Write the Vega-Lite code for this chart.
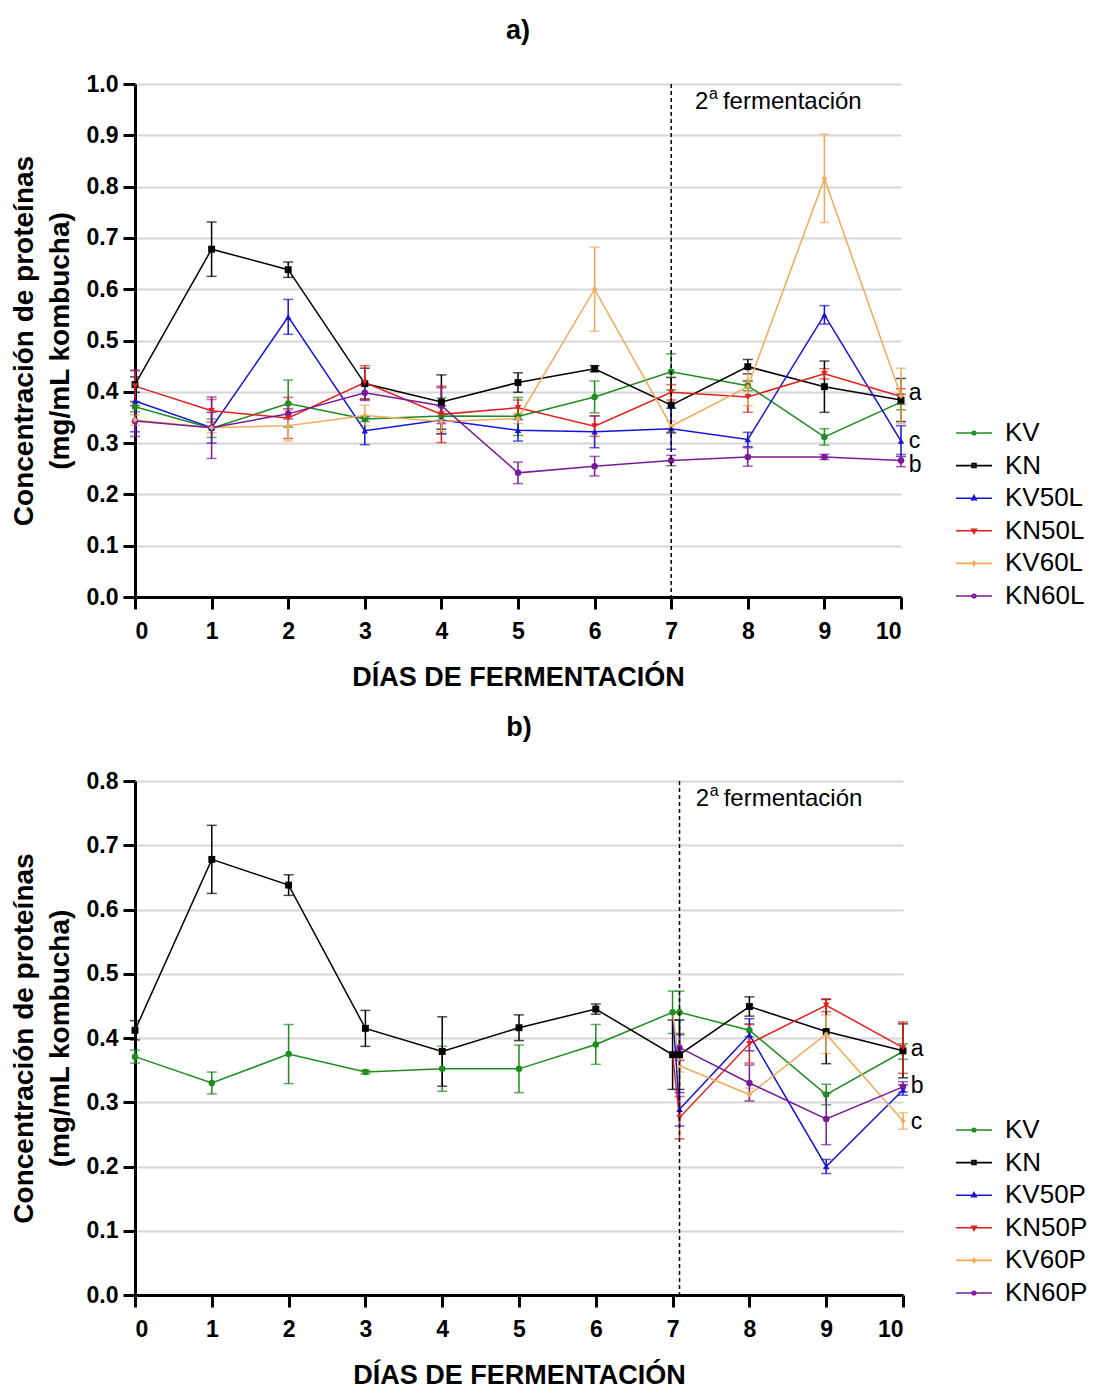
{
  "$schema": "https://vega.github.io/schema/vega-lite/v6.json",
  "padding": {"left": 10, "top": 17, "right": 0, "bottom": 0},
  "background": "white",
  "config": {
    "view": {"stroke": null},
    "font": "Liberation Sans",
    "axis": {
      "domainColor": "black", "domainWidth": 3, "tickColor": "black", "tickWidth": 3, "tickSize": 12,
      "labelFont": "Liberation Sans", "labelFontWeight": "bold", "labelFontSize": 23, "labelColor": "black",
      "titleFont": "Liberation Sans", "titleFontWeight": "bold", "titleFontSize": 27, "titleColor": "black",
      "gridColor": "#d6d6d6", "gridWidth": 2
    },
    "axisX": {"grid": false, "labelPadding": 11, "titlePadding": 21},
    "axisY": {"grid": true, "labelPadding": 5, "titlePadding": 12, "titleLineHeight": 36, "titleFontSize": 28},
    "title": {"font": "Liberation Sans", "fontSize": 27, "fontWeight": "bold", "color": "black", "anchor": "middle", "frame": "group", "offset": 28},
    "legend": {"labelFont": "Liberation Sans", "labelFontSize": 26, "labelColor": "black", "padding": 0, "rowPadding": 3.6, "labelOffset": 15}
  },
  "datasets": {
    "A": [
      {"s": "KV", "d": 0, "v": 0.371, "e": 0.01}, {"s": "KV", "d": 1, "v": 0.329, "e": 0.018}, {"s": "KV", "d": 2, "v": 0.377, "e": 0.046},
      {"s": "KV", "d": 3, "v": 0.347, "e": 0.005}, {"s": "KV", "d": 4, "v": 0.353, "e": 0.035}, {"s": "KV", "d": 5, "v": 0.352, "e": 0.037},
      {"s": "KV", "d": 6, "v": 0.39, "e": 0.031}, {"s": "KV", "d": 7, "v": 0.439, "e": 0.035}, {"s": "KV", "d": 8, "v": 0.412, "e": 0.01},
      {"s": "KV", "d": 9, "v": 0.312, "e": 0.016}, {"s": "KV", "d": 10, "v": 0.38, "e": 0.015},
      {"s": "KN", "d": 0, "v": 0.414, "e": 0.015}, {"s": "KN", "d": 1, "v": 0.678, "e": 0.053}, {"s": "KN", "d": 2, "v": 0.638, "e": 0.015},
      {"s": "KN", "d": 3, "v": 0.416, "e": 0.03}, {"s": "KN", "d": 4, "v": 0.38, "e": 0.053}, {"s": "KN", "d": 5, "v": 0.418, "e": 0.019},
      {"s": "KN", "d": 6, "v": 0.445, "e": 0.006}, {"s": "KN", "d": 7, "v": 0.374, "e": 0.054}, {"s": "KN", "d": 8, "v": 0.449, "e": 0.014},
      {"s": "KN", "d": 9, "v": 0.41, "e": 0.05}, {"s": "KN", "d": 10, "v": 0.384, "e": 0.042},
      {"s": "KV50L", "d": 0, "v": 0.382, "e": 0.06}, {"s": "KV50L", "d": 1, "v": 0.33, "e": 0.03}, {"s": "KV50L", "d": 2, "v": 0.546, "e": 0.034},
      {"s": "KV50L", "d": 3, "v": 0.324, "e": 0.027}, {"s": "KV50L", "d": 4, "v": 0.345, "e": 0.027}, {"s": "KV50L", "d": 5, "v": 0.325, "e": 0.021},
      {"s": "KV50L", "d": 6, "v": 0.322, "e": 0.031}, {"s": "KV50L", "d": 7, "v": 0.328, "e": 0.04}, {"s": "KV50L", "d": 8, "v": 0.307, "e": 0.014},
      {"s": "KV50L", "d": 9, "v": 0.55, "e": 0.018}, {"s": "KV50L", "d": 10, "v": 0.304, "e": 0.03},
      {"s": "KN50L", "d": 0, "v": 0.411, "e": 0.03}, {"s": "KN50L", "d": 1, "v": 0.363, "e": 0.022}, {"s": "KN50L", "d": 2, "v": 0.349, "e": 0.04},
      {"s": "KN50L", "d": 3, "v": 0.418, "e": 0.033}, {"s": "KN50L", "d": 4, "v": 0.356, "e": 0.055}, {"s": "KN50L", "d": 5, "v": 0.369, "e": 0.015},
      {"s": "KN50L", "d": 6, "v": 0.333, "e": 0.02}, {"s": "KN50L", "d": 7, "v": 0.399, "e": 0.015}, {"s": "KN50L", "d": 8, "v": 0.39, "e": 0.03},
      {"s": "KN50L", "d": 9, "v": 0.435, "e": 0.01}, {"s": "KN50L", "d": 10, "v": 0.391, "e": 0.015},
      {"s": "KV60L", "d": 0, "v": 0.345, "e": 0.01}, {"s": "KV60L", "d": 1, "v": 0.33, "e": 0.01}, {"s": "KV60L", "d": 2, "v": 0.334, "e": 0.03},
      {"s": "KV60L", "d": 3, "v": 0.354, "e": 0.02}, {"s": "KV60L", "d": 4, "v": 0.342, "e": 0.02}, {"s": "KV60L", "d": 5, "v": 0.348, "e": 0.01},
      {"s": "KV60L", "d": 6, "v": 0.6, "e": 0.082}, {"s": "KV60L", "d": 7, "v": 0.333, "e": 0.01}, {"s": "KV60L", "d": 8, "v": 0.41, "e": 0.037},
      {"s": "KV60L", "d": 9, "v": 0.816, "e": 0.086}, {"s": "KV60L", "d": 10, "v": 0.392, "e": 0.054},
      {"s": "KN60L", "d": 0, "v": 0.343, "e": 0.03}, {"s": "KN60L", "d": 1, "v": 0.33, "e": 0.06}, {"s": "KN60L", "d": 2, "v": 0.357, "e": 0.01},
      {"s": "KN60L", "d": 3, "v": 0.398, "e": 0.015}, {"s": "KN60L", "d": 4, "v": 0.373, "e": 0.035}, {"s": "KN60L", "d": 5, "v": 0.242, "e": 0.021},
      {"s": "KN60L", "d": 6, "v": 0.255, "e": 0.019}, {"s": "KN60L", "d": 7, "v": 0.266, "e": 0.01}, {"s": "KN60L", "d": 8, "v": 0.273, "e": 0.018},
      {"s": "KN60L", "d": 9, "v": 0.273, "e": 0.005}, {"s": "KN60L", "d": 10, "v": 0.266, "e": 0.012}
    ],
    "B": [
      {"s": "KV", "d": 0, "v": 0.371, "e": 0.01}, {"s": "KV", "d": 1, "v": 0.33, "e": 0.017}, {"s": "KV", "d": 2, "v": 0.375, "e": 0.046},
      {"s": "KV", "d": 3, "v": 0.347, "e": 0.003}, {"s": "KV", "d": 4, "v": 0.352, "e": 0.035}, {"s": "KV", "d": 5, "v": 0.352, "e": 0.037},
      {"s": "KV", "d": 6, "v": 0.39, "e": 0.031}, {"s": "KV", "d": 7, "v": 0.44, "e": 0.033}, {"s": "KV", "d": 7.09, "v": 0.44, "e": 0.033},
      {"s": "KV", "d": 8, "v": 0.412, "e": 0.01}, {"s": "KV", "d": 9, "v": 0.312, "e": 0.016}, {"s": "KV", "d": 10, "v": 0.379, "e": 0.012},
      {"s": "KN", "d": 0, "v": 0.412, "e": 0.015}, {"s": "KN", "d": 1, "v": 0.678, "e": 0.053}, {"s": "KN", "d": 2, "v": 0.638, "e": 0.016},
      {"s": "KN", "d": 3, "v": 0.415, "e": 0.028}, {"s": "KN", "d": 4, "v": 0.379, "e": 0.054}, {"s": "KN", "d": 5, "v": 0.416, "e": 0.02},
      {"s": "KN", "d": 6, "v": 0.445, "e": 0.008}, {"s": "KN", "d": 7, "v": 0.374, "e": 0.054}, {"s": "KN", "d": 7.09, "v": 0.374, "e": 0.054},
      {"s": "KN", "d": 8, "v": 0.449, "e": 0.015}, {"s": "KN", "d": 9, "v": 0.41, "e": 0.05}, {"s": "KN", "d": 10, "v": 0.38, "e": 0.042},
      {"s": "KV50P", "d": 7, "v": 0.44, "e": 0}, {"s": "KV50P", "d": 7.09, "v": 0.289, "e": 0.026}, {"s": "KV50P", "d": 8, "v": 0.405, "e": 0.025},
      {"s": "KV50P", "d": 9, "v": 0.2, "e": 0.011}, {"s": "KV50P", "d": 10, "v": 0.319, "e": 0.008},
      {"s": "KN50P", "d": 7, "v": 0.374, "e": 0}, {"s": "KN50P", "d": 7.09, "v": 0.276, "e": 0.033}, {"s": "KN50P", "d": 8, "v": 0.391, "e": 0.03},
      {"s": "KN50P", "d": 9, "v": 0.451, "e": 0.01}, {"s": "KN50P", "d": 10, "v": 0.385, "e": 0.04},
      {"s": "KV60P", "d": 7, "v": 0.44, "e": 0}, {"s": "KV60P", "d": 7.09, "v": 0.357, "e": 0.01}, {"s": "KV60P", "d": 8, "v": 0.312, "e": 0.01},
      {"s": "KV60P", "d": 9, "v": 0.406, "e": 0.03}, {"s": "KV60P", "d": 10, "v": 0.271, "e": 0.013},
      {"s": "KN60P", "d": 7, "v": 0.374, "e": 0}, {"s": "KN60P", "d": 7.09, "v": 0.385, "e": 0.02}, {"s": "KN60P", "d": 8, "v": 0.33, "e": 0.028},
      {"s": "KN60P", "d": 9, "v": 0.274, "e": 0.04}, {"s": "KN60P", "d": 10, "v": 0.324, "e": 0.008}
    ]
  },
  "spacing": 24,
  "resolve": {"scale": {"color": "independent", "shape": "independent", "x": "independent", "y": "independent"}},
  "vconcat": [
    {
      "title": "a)",
      "width": 766,
      "height": 513,
      "resolve": {"legend": {"color": "independent", "shape": "independent"}},
      "encoding": {
        "x": {"field": "d", "type": "quantitative", "scale": {"domain": [0, 10], "nice": false},
              "axis": {"title": "DÍAS DE FERMENTACIÓN", "values": [0, 1, 2, 3, 4, 5, 6, 7, 8, 9, 10], "format": "d"}}
      },
      "layer": [
        {
          "data": {"name": "A"},
          "encoding": {
            "y": {"field": "v", "type": "quantitative", "scale": {"domain": [0, 1], "nice": false}, "axis": {"title": ["Concentración de proteínas", "(mg/mL kombucha)"], "values": [0, 0.1, 0.2, 0.3, 0.4, 0.5, 0.6, 0.7, 0.8, 0.9, 1.0], "format": ".1f"}},
            "color": {"field": "s", "type": "nominal", "legend": null, "scale": {"domain": ["KV", "KN", "KV50L", "KN50L", "KV60L", "KN60L"], "range": ["#1e8c1e", "#000000", "#1414d2", "#e0201c", "#f0aa5a", "#7a1a9a"]}}
          },
          "layer": [
            {"mark": {"type": "errorbar", "ticks": {"size": 10, "thickness": 1.5}, "thickness": 1.5}, "encoding": {"yError": {"field": "e"}}},
            {"mark": {"type": "line", "strokeWidth": 1.5}},
            {"transform": [{"filter": "datum.s == 'KV' || datum.s == 'KN60L'"}], "mark": {"type": "point", "shape": "circle", "filled": true, "opacity": 1, "size": 42}},
            {"transform": [{"filter": "datum.s == 'KN'"}], "mark": {"type": "point", "shape": "square", "filled": true, "opacity": 1, "size": 48}},
            {"transform": [{"filter": "datum.s == 'KV50L'"}], "mark": {"type": "point", "shape": "triangle-up", "filled": true, "opacity": 1, "size": 42}},
            {"transform": [{"filter": "datum.s == 'KN50L'"}], "mark": {"type": "point", "shape": "triangle-down", "filled": true, "opacity": 1, "size": 42}},
            {"transform": [{"filter": "datum.s == 'KV60L'"}], "mark": {"type": "point", "shape": "diamond", "filled": true, "opacity": 1, "size": 32}}
          ]
        },
        {
          "data": {"name": "A"},
          "mark": {"type": "point", "filled": false, "opacity": 0, "size": 900, "strokeWidth": 1.6},
          "encoding": {
            "y": {"field": "v", "type": "quantitative", "scale": {"domain": [0, 1], "nice": false}, "axis": {"title": ["Concentración de proteínas", "(mg/mL kombucha)"], "values": [0, 0.1, 0.2, 0.3, 0.4, 0.5, 0.6, 0.7, 0.8, 0.9, 1.0], "format": ".1f"}},
            "color": {"field": "s", "type": "nominal", "scale": {"domain": ["KV", "KN", "KV50L", "KN50L", "KV60L", "KN60L"], "range": ["#1e8c1e", "#000000", "#1414d2", "#e0201c", "#f0aa5a", "#7a1a9a"]},
                      "legend": {"orient": "none", "legendX": 823, "legendY": 333, "title": null, "symbolSize": 900, "symbolOpacity": 1, "symbolStrokeWidth": 1.6}},
            "shape": {"field": "s", "type": "nominal",
                      "scale": {"domain": ["KV", "KN", "KV50L", "KN50L", "KV60L", "KN60L"],
                                "range": ["M-1.2,0H1.2M0.12,0A0.12,0.12,0,1,1,-0.12,0A0.12,0.12,0,1,1,0.12,0Z", "M-1.2,0H1.2M-0.13,-0.13H0.13V0.13H-0.13Z", "M-1.2,0H1.2M0,-0.17L0.15,0.1H-0.15Z", "M-1.2,0H1.2M0,0.17L0.15,-0.1H-0.15Z", "M-1.2,0H1.2M0,-0.14L0.1,0L0,0.14L-0.1,0Z", "M-1.2,0H1.2M0.12,0A0.12,0.12,0,1,1,-0.12,0A0.12,0.12,0,1,1,0.12,0Z"]},
                      "legend": {"orient": "none", "legendX": 823, "legendY": 333, "title": null, "symbolSize": 900, "symbolOpacity": 1, "symbolStrokeWidth": 1.6}}
          }
        },
        {
          "data": {"values": [{"d": 7}]},
          "mark": {"type": "rule", "strokeDash": [4, 3], "strokeWidth": 1.5, "color": "black"},
          "encoding": {}
        },
        {
          "data": {"values": [{"d": 7.31, "v": 0.965}]},
          "encoding": {"y": {"field": "v", "type": "quantitative", "scale": {"domain": [0, 1], "nice": false}, "axis": {"title": ["Concentración de proteínas", "(mg/mL kombucha)"], "values": [0, 0.1, 0.2, 0.3, 0.4, 0.5, 0.6, 0.7, 0.8, 0.9, 1.0], "format": ".1f"}}},
          "layer": [
            {"mark": {"type": "text", "text": "2", "align": "left", "baseline": "middle", "fontSize": 24, "color": "black"}},
            {"mark": {"type": "text", "text": "a", "align": "left", "baseline": "middle", "fontSize": 16, "dx": 14, "dy": -8, "color": "black"}},
            {"mark": {"type": "text", "text": "fermentación", "align": "left", "baseline": "middle", "fontSize": 24, "dx": 28, "color": "black"}}
          ]
        },
        {
          "data": {"values": [{"d": 10.1, "v": 0.397, "t": "a"}, {"d": 10.1, "v": 0.305, "t": "c"}, {"d": 10.1, "v": 0.258, "t": "b"}]},
          "mark": {"type": "text", "align": "left", "baseline": "middle", "fontSize": 23, "color": "black"},
          "encoding": {"y": {"field": "v", "type": "quantitative", "scale": {"domain": [0, 1], "nice": false}, "axis": {"title": ["Concentración de proteínas", "(mg/mL kombucha)"], "values": [0, 0.1, 0.2, 0.3, 0.4, 0.5, 0.6, 0.7, 0.8, 0.9, 1.0], "format": ".1f"}}, "text": {"field": "t"}}
        }
      ]
    },
    {
      "title": "b)",
      "width": 768,
      "height": 514,
      "resolve": {"legend": {"color": "independent", "shape": "independent"}},
      "encoding": {
        "x": {"field": "d", "type": "quantitative", "scale": {"domain": [0, 10], "nice": false},
              "axis": {"title": "DÍAS DE FERMENTACIÓN", "values": [0, 1, 2, 3, 4, 5, 6, 7, 8, 9, 10], "format": "d"}}
      },
      "layer": [
        {
          "data": {"name": "B"},
          "encoding": {
            "y": {"field": "v", "type": "quantitative", "scale": {"domain": [0, 0.8], "nice": false}, "axis": {"title": ["Concentración de proteínas", "(mg/mL kombucha)"], "values": [0, 0.1, 0.2, 0.3, 0.4, 0.5, 0.6, 0.7, 0.8], "format": ".1f"}},
            "color": {"field": "s", "type": "nominal", "legend": null, "scale": {"domain": ["KV", "KN", "KV50P", "KN50P", "KV60P", "KN60P"], "range": ["#1e8c1e", "#000000", "#1414d2", "#e0201c", "#f0aa5a", "#7a1a9a"]}}
          },
          "layer": [
            {"transform": [{"filter": "datum.s == 'KV' || datum.s == 'KN' || datum.d != 7"}], "mark": {"type": "errorbar", "ticks": {"size": 10, "thickness": 1.5}, "thickness": 1.5}, "encoding": {"yError": {"field": "e"}}},
            {"mark": {"type": "line", "strokeWidth": 1.5}},
            {"transform": [{"filter": "datum.s == 'KV' || (datum.s == 'KN60P' && datum.d != 7)"}], "mark": {"type": "point", "shape": "circle", "filled": true, "opacity": 1, "size": 42}},
            {"transform": [{"filter": "datum.s == 'KN'"}], "mark": {"type": "point", "shape": "square", "filled": true, "opacity": 1, "size": 48}},
            {"transform": [{"filter": "datum.s == 'KV50P' && datum.d != 7"}], "mark": {"type": "point", "shape": "triangle-up", "filled": true, "opacity": 1, "size": 42}},
            {"transform": [{"filter": "datum.s == 'KN50P' && datum.d != 7"}], "mark": {"type": "point", "shape": "triangle-down", "filled": true, "opacity": 1, "size": 42}},
            {"transform": [{"filter": "datum.s == 'KV60P' && datum.d != 7"}], "mark": {"type": "point", "shape": "diamond", "filled": true, "opacity": 1, "size": 32}}
          ]
        },
        {
          "data": {"name": "B"},
          "mark": {"type": "point", "filled": false, "opacity": 0, "size": 900, "strokeWidth": 1.6},
          "encoding": {
            "y": {"field": "v", "type": "quantitative", "scale": {"domain": [0, 0.8], "nice": false}, "axis": {"title": ["Concentración de proteínas", "(mg/mL kombucha)"], "values": [0, 0.1, 0.2, 0.3, 0.4, 0.5, 0.6, 0.7, 0.8], "format": ".1f"}},
            "color": {"field": "s", "type": "nominal", "scale": {"domain": ["KV", "KN", "KV50P", "KN50P", "KV60P", "KN60P"], "range": ["#1e8c1e", "#000000", "#1414d2", "#e0201c", "#f0aa5a", "#7a1a9a"]},
                      "legend": {"orient": "none", "legendX": 823, "legendY": 333, "title": null, "symbolSize": 900, "symbolOpacity": 1, "symbolStrokeWidth": 1.6}},
            "shape": {"field": "s", "type": "nominal",
                      "scale": {"domain": ["KV", "KN", "KV50P", "KN50P", "KV60P", "KN60P"],
                                "range": ["M-1.2,0H1.2M0.12,0A0.12,0.12,0,1,1,-0.12,0A0.12,0.12,0,1,1,0.12,0Z", "M-1.2,0H1.2M-0.13,-0.13H0.13V0.13H-0.13Z", "M-1.2,0H1.2M0,-0.17L0.15,0.1H-0.15Z", "M-1.2,0H1.2M0,0.17L0.15,-0.1H-0.15Z", "M-1.2,0H1.2M0,-0.14L0.1,0L0,0.14L-0.1,0Z", "M-1.2,0H1.2M0.12,0A0.12,0.12,0,1,1,-0.12,0A0.12,0.12,0,1,1,0.12,0Z"]},
                      "legend": {"orient": "none", "legendX": 823, "legendY": 333, "title": null, "symbolSize": 900, "symbolOpacity": 1, "symbolStrokeWidth": 1.6}}
          }
        },
        {
          "data": {"values": [{"d": 7.09}]},
          "mark": {"type": "rule", "strokeDash": [4, 3], "strokeWidth": 1.5, "color": "black"},
          "encoding": {}
        },
        {
          "data": {"values": [{"d": 7.3, "v": 0.772}]},
          "encoding": {"y": {"field": "v", "type": "quantitative", "scale": {"domain": [0, 0.8], "nice": false}, "axis": {"title": ["Concentración de proteínas", "(mg/mL kombucha)"], "values": [0, 0.1, 0.2, 0.3, 0.4, 0.5, 0.6, 0.7, 0.8], "format": ".1f"}}},
          "layer": [
            {"mark": {"type": "text", "text": "2", "align": "left", "baseline": "middle", "fontSize": 24, "color": "black"}},
            {"mark": {"type": "text", "text": "a", "align": "left", "baseline": "middle", "fontSize": 16, "dx": 14, "dy": -8, "color": "black"}},
            {"mark": {"type": "text", "text": "fermentación", "align": "left", "baseline": "middle", "fontSize": 24, "dx": 28, "color": "black"}}
          ]
        },
        {
          "data": {"values": [{"d": 10.1, "v": 0.383, "t": "a"}, {"d": 10.1, "v": 0.325, "t": "b"}, {"d": 10.1, "v": 0.27, "t": "c"}]},
          "mark": {"type": "text", "align": "left", "baseline": "middle", "fontSize": 23, "color": "black"},
          "encoding": {"y": {"field": "v", "type": "quantitative", "scale": {"domain": [0, 0.8], "nice": false}, "axis": {"title": ["Concentración de proteínas", "(mg/mL kombucha)"], "values": [0, 0.1, 0.2, 0.3, 0.4, 0.5, 0.6, 0.7, 0.8], "format": ".1f"}}, "text": {"field": "t"}}
        }
      ]
    }
  ]
}
